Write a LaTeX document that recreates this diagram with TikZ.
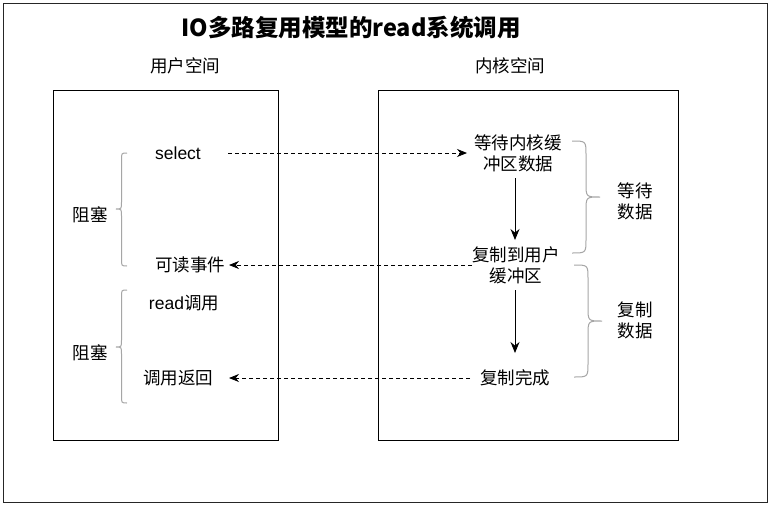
\documentclass[tikz,border=0pt]{standalone}
\usepackage{fontspec}
\setmainfont{Liberation Sans}
\newfontfamily\cjk{Noto Sans CJK SC}
\usetikzlibrary{arrows.meta}
\begin{document}
\begin{tikzpicture}[x=1pt,y=-1pt,
  lbl/.style={font=\fontsize{17.5}{21}\selectfont, align=center, inner sep=1pt},
  frame/.style={draw=black, line width=1pt},
  darr/.style={dash pattern=on 4pt off 3pt, line width=0.8pt, -{Stealth[length=10pt,width=8pt]}},
  sarr/.style={line width=1pt, -{Stealth[length=11pt,width=9pt]}},
  brc/.style={draw=gray!70, line width=1pt}]
\useasboundingbox (0,0) rectangle (770,509);
\draw[draw=black!85, line width=1pt, fill=white] (3,3) rectangle (767,502);
\node[font=\cjk\bfseries\fontsize{23.5}{27}\selectfont] (title) at (351,28) {IO多路复用模型的read系统调用};
\node[lbl] (us) at (185,66) {\cjk 用户空间};
\node[lbl] (ks) at (510,66) {\cjk 内核空间};
\draw[frame] (53,90) rectangle (278,440);
\draw[frame] (378,90) rectangle (678,440);
% left
\node[lbl] (sel) at (178,153) {select};
\node[lbl] (kd) at (190,265) {\cjk 可读事件};
\node[lbl] (rd) at (184,303) {read\cjk 调用};
\node[lbl] (fh) at (178,378) {\cjk 调用返回};
\node[lbl] (zs1) at (90,215) {\cjk 阻塞};
\node[lbl] (zs2) at (90,353) {\cjk 阻塞};
\draw[brc] (127,153) .. controls (121.5,153) .. (121.5,160) -- (121.5,202) .. controls (121.5,209) .. (116,209) .. controls (121.5,209) .. (121.5,216) -- (121.5,259) .. controls (121.5,266) .. (127,266);
\draw[brc] (127,290) .. controls (121.5,290) .. (121.5,297) -- (121.5,340) .. controls (121.5,347) .. (116,347) .. controls (121.5,347) .. (121.5,354) -- (121.5,396) .. controls (121.5,403) .. (127,403);
% right
\node[lbl] (wait) at (518,153) {\cjk 等待内核缓\\\cjk 冲区数据};
\node[lbl] (copy) at (516,265) {\cjk 复制到用户\\\cjk 缓冲区};
\node[lbl] (done) at (515,378) {\cjk 复制完成};
\node[lbl] (wd) at (635,201) {\cjk 等待\\\cjk 数据};
\node[lbl] (cd) at (635,320) {\cjk 复制\\\cjk 数据};
\draw[brc] (572,141) .. controls (586,141) .. (586,155) -- (586,183) .. controls (586,197) .. (600,197) .. controls (586,197) .. (586,211) -- (586,239) .. controls (586,253) .. (572,253);
\draw[brc] (574,265) .. controls (588,265) .. (588,279) -- (588,307) .. controls (588,321) .. (602,321) .. controls (588,321) .. (588,335) -- (588,363) .. controls (588,377) .. (574,377);
% arrows
\coordinate (s1) at (228,153);
\coordinate (e1) at (467,153);
\draw[darr] (s1) -- (e1);
\coordinate (s2) at (472,265);
\coordinate (e2) at (229,265);
\draw[darr] (s2) -- (e2);
\coordinate (s3) at (470,378);
\coordinate (e3) at (229,378);
\draw[darr] (s3) -- (e3);
\coordinate (a1) at (515,178);
\coordinate (b1) at (515,240);
\draw[sarr] (a1) -- (b1);
\coordinate (a2) at (515,290);
\coordinate (b2) at (515,353);
\draw[sarr] (a2) -- (b2);
\end{tikzpicture}
\end{document}
